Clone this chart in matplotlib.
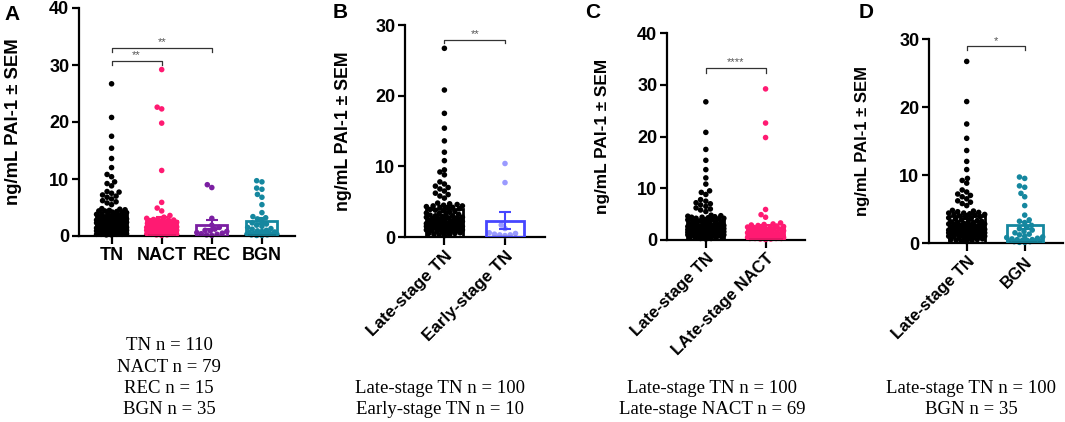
import numpy as np
import matplotlib
matplotlib.use("Agg")
import matplotlib.pyplot as plt

# ---------------- data ----------------
late_tn = [26.7, 20.8, 17.5, 15.4, 13.6, 12.0, 10.8, 9.5, 9.2, 8.8,
           7.8, 7.5, 7.2, 7.0, 6.8, 6.5, 6.2, 6.0, 5.8, 5.5,
           4.8, 4.6, 4.5, 4.4, 4.3, 4.2, 4.2, 4.1, 4.0, 3.9,
           3.8, 3.6, 3.5, 3.3, 3.2, 3.1, 3.0, 2.9, 2.8, 2.7,
           2.6, 2.5, 2.4, 2.3, 2.2, 2.1, 2.0, 1.9, 1.9, 1.8,
           1.7, 1.6, 1.5, 1.5, 1.4, 1.3, 1.3, 1.2, 1.1, 1.0,
           3.0, 2.8, 2.6, 2.5, 2.4, 2.2, 2.1, 2.0, 1.9, 1.8,
           1.6, 1.5, 1.4, 1.3, 1.2, 1.1, 1.0, 0.9, 0.9, 0.8,
           0.8, 0.7, 0.7, 0.6, 0.5, 0.5, 0.4, 0.3, 0.3, 0.2,
           4.7, 4.4, 3.7, 3.4, 3.1, 2.7, 2.4, 1.8, 1.6, 1.4]
early_tn = [10.4, 7.7, 1.7, 1.2, 0.5, 0.3, 0.4, 0.6, 0.2, 0.3]
late_nact = [29.2, 22.6, 19.8, 5.9, 4.9, 4.4,
             3.3, 3.1, 3.0, 2.9, 2.8, 2.7, 2.6, 2.5, 2.4, 2.3,
             2.2, 2.1, 2.0, 1.9, 1.8, 1.7, 1.6, 1.5, 1.4, 1.3,
             1.2, 1.1, 1.0, 1.0, 0.9, 0.9, 0.8, 0.8, 0.7, 0.7,
             0.6, 0.6, 0.5, 0.5, 0.5, 0.4, 0.4, 0.3, 0.3, 0.2,
             2.4, 2.2, 1.5, 1.4, 1.3, 1.2, 1.1, 1.0, 1.0, 0.9,
             0.9, 0.8, 0.7, 0.6, 0.6, 0.5, 0.5, 0.4, 0.4, 0.3, 0.3, 0.2, 0.1]
other_nact = [22.3, 11.5, 3.6, 2.8, 2.0, 1.5, 1.0, 0.6, 0.4, 0.3]
rec = [9.0, 8.5, 3.1, 1.9, 1.5, 1.2, 1.0, 0.9, 0.8, 0.6, 0.5, 0.4, 0.3, 0.2, 0.1]
bgn = [9.7, 9.5, 8.4, 8.2, 7.3, 6.8, 5.5, 4.1, 3.4, 3.2, 3.0,
       2.6, 2.3, 2.1, 1.9, 1.7, 1.5, 1.3, 1.2, 1.0, 0.9, 0.8, 0.7,
       0.6, 0.5, 0.5, 0.4, 0.4, 0.3, 0.3, 0.3, 0.2, 0.2, 0.1, 0.1]
tn = late_tn + early_tn
nact = late_nact + other_nact

labels_a = ["TN", "NACT", "REC", "BGN"]
labels_b = ["Late-stage TN", "Early-stage TN"]
labels_c = ["Late-stage TN", "LAte-stage NACT"]
labels_d = ["Late-stage TN", "BGN"]

counts_a = ["TN n = 110", "NACT n = 79", "REC n = 15", "BGN n = 35"]
counts_b = ["Late-stage TN n = 100", "Early-stage TN n = 10"]
counts_c = ["Late-stage TN n = 100", "Late-stage NACT n = 69"]
counts_d = ["Late-stage TN n = 100", "BGN n = 35"]

# ---------------- styling ----------------
C_TN = "#000000"
C_NACT = "#FF1A72"
C_REC = "#7B1FA2"
C_BGN = "#15879F"
C_EARLY_PT = "#9A9AFF"
C_EARLY_BAR = "#4646FF"

W, H = 1065, 422
fig = plt.figure(figsize=(W / 100, H / 100), dpi=100)
SANS = ["Liberation Sans", "DejaVu Sans"]
SERIF = ["Liberation Serif", "DejaVu Serif"]


def px_axes(x0, x1, ytop, ybot):
    return fig.add_axes([x0 / W, 1 - ybot / H, (x1 - x0) / W, (ybot - ytop) / H])


def swarm_offsets(ax, xc, vals, hw, d):
    pts = ax.transData.transform(np.column_stack([np.full(len(vals), xc), vals]))
    order = np.argsort(vals)
    cands = np.arange(-hw, hw + 0.01, 0.75)
    cands = cands[np.argsort(np.abs(cands), kind="stable")]
    placed = []
    out = np.zeros((len(vals), 2))
    for i in order:
        px, py = pts[i]
        best, bestd = None, -1
        for off in cands:
            if placed:
                arr = np.array(placed)
                md = np.min(np.hypot(arr[:, 0] - (px + off), arr[:, 1] - py))
            else:
                md = 1e9
            if md >= d:
                best = off
                break
            if md > bestd:
                bestd, best = md, off
        placed.append((px + best, py))
        out[i] = (px + best, py)
    return ax.transData.inverted().transform(out)


def panel(ax, groups, colors, barcolors, labels, ylim, yticks, rotate, hw, xlab_size):
    xs = np.arange(len(groups))
    means = [np.mean(g) for g in groups]
    sems = [np.std(g, ddof=1) / np.sqrt(len(g)) for g in groups]
    ax.set_xlim(-0.65, len(groups) - 1 + 0.66)
    ax.set_ylim(*ylim)
    ax.bar(xs, means, width=0.62, facecolor="white", edgecolor="none", zorder=1)
    for x, g, c in zip(xs, groups, colors):
        xy = swarm_offsets(ax, x, np.array(g, float), hw, 4.8)
        ax.scatter(xy[:, 0], xy[:, 1], s=16, color=c, edgecolors="none", zorder=2, clip_on=False)
    ax.bar(xs, means, width=0.62, facecolor="none", edgecolor=barcolors, linewidth=2.0, zorder=3)
    for x, m, s, c in zip(xs, means, sems, barcolors):
        ax.errorbar([x], [m], yerr=[s], color=c, capsize=4.5, elinewidth=1.5, capthick=1.5, zorder=4)
    for side in ("top", "right"):
        ax.spines[side].set_visible(False)
    for side in ("left", "bottom"):
        ax.spines[side].set_linewidth(1.6)
    ax.set_yticks(yticks)
    ax.set_xticks(xs)
    ax.tick_params(axis="both", width=1.6, length=5, labelsize=13, pad=2)
    ax.tick_params(axis="x", length=6)
    for t in ax.get_yticklabels():
        t.set_fontweight("bold"); t.set_fontfamily(SANS)
    if rotate:
        ax.set_xticklabels(labels, rotation=45, ha="right", va="top", rotation_mode="anchor",
                           fontweight="bold", family=SANS, fontsize=xlab_size)
    else:
        ax.set_xticklabels(labels, fontweight="bold", family=SANS, fontsize=xlab_size)
    return means


def bracket(ax, x1, x2, y, drop, txt):
    ax.plot([x1, x1, x2, x2], [y - drop, y, y, y - drop], color="#333333", lw=0.9,
            zorder=5, clip_on=False)
    ax.text((x1 + x2) / 2, y + drop * 0.2, txt, ha="center", va="bottom", fontsize=8,
            color="#555555", family=SANS)


def ylabel_at(xpix, ax, size):
    pos = ax.get_position()
    fig.text(xpix / W, pos.y0 + pos.height / 2, "ng/mL PAI-1 ± SEM", rotation=90,
             ha="center", va="center", fontsize=size, fontweight="bold", family=SANS)


# Panel A
axA = px_axes(79, 295, 8, 236)
panel(axA, [tn, nact, rec, bgn], [C_TN, C_NACT, C_REC, C_BGN],
      [C_TN, C_NACT, C_REC, C_BGN], labels_a, (0, 40), [0, 10, 20, 30, 40], False, 15, 13)
bracket(axA, 0, 1, 30.7, 0.7, "**")
bracket(axA, 0, 2, 33.0, 0.7, "**")
ylabel_at(14, axA, 13.3)

# Panel B
axB = px_axes(405, 545, 25, 237)
panel(axB, [late_tn, early_tn], [C_TN, C_EARLY_PT], [C_TN, C_EARLY_BAR], labels_b,
      (0, 30), [0, 10, 20, 30], True, 18, 12.3)
bracket(axB, 0, 1, 27.9, 0.5, "**")
ylabel_at(343, axB, 12.8)

# Panel C
axC = px_axes(667, 805, 33, 240)
panel(axC, [late_tn, late_nact], [C_TN, C_NACT], [C_TN, C_NACT], labels_c,
      (0, 40), [0, 10, 20, 30, 40], True, 18, 12)
bracket(axC, 0, 1, 33.2, 1.0, "****")
ylabel_at(603, axC, 12.4)

# Panel D
axD = px_axes(929, 1063, 39, 243)
panel(axD, [late_tn, bgn], [C_TN, C_BGN], [C_TN, C_BGN], labels_d,
      (0, 30), [0, 10, 20, 30], True, 18, 12)
bracket(axD, 0, 1, 28.9, 0.5, "*")
ylabel_at(863, axD, 12)

# panel letters
for lab, x, y in [("A", 12, 14), ("B", 340, 12), ("C", 593, 13), ("D", 866, 13)]:
    fig.text(x / W, 1 - y / H, lab, ha="center", va="center", fontsize=15,
             fontweight="bold", family=SANS)


# n counts
def counts(lines, xc, ylast):
    n = len(lines)
    for i, s in enumerate(lines):
        y = ylast - (n - 1 - i) * 21.5
        fig.text(xc / W, 1 - y / H, s, ha="center", va="center", fontsize=13.5, family=SERIF)


counts(counts_a, 169, 410)
counts(counts_b, 440, 410)
counts(counts_c, 712, 410)
counts(counts_d, 971, 410)

fig.savefig("out.png", dpi=100)
